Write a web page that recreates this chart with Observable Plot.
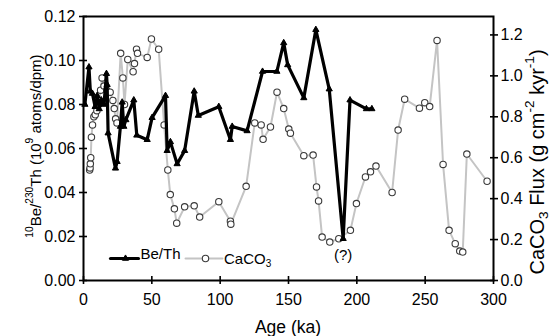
<!DOCTYPE html>
<html><head><meta charset="utf-8">
<script src="https://cdn.jsdelivr.net/npm/d3@7"></script>
<script src="https://cdn.jsdelivr.net/npm/@observablehq/plot@0.6"></script>
<style>body{margin:0;background:#fff}</style>
</head><body>
<div id="chart"></div>
<script>
// Be/Th ratio (10^9 atoms/dpm) vs age (ka)
const beAge = [1, 4, 5, 6.5, 8.5, 10, 11.5, 13, 15, 16.8, 17.3, 18, 23.4, 24.6, 27, 28.3, 29.5, 31, 36.8, 39, 46.6, 50.2, 60, 61.2, 63.6, 68.5, 74, 81, 84, 99, 107.5, 108.8, 119.7, 131, 141.5, 146.5, 149.4, 161.2, 170, 179.8, 190, 195, 207, 211];
const beVal = [0.080, 0.097, 0.086, 0.085, 0.079, 0.084, 0.078, 0.082, 0.080, 0.094, 0.089, 0.067, 0.051, 0.054, 0.070, 0.081, 0.070, 0.073, 0.082, 0.066, 0.064, 0.074, 0.084, 0.059, 0.063, 0.053, 0.059, 0.086, 0.075, 0.079, 0.064, 0.070, 0.068, 0.095, 0.095, 0.108, 0.098, 0.083, 0.114, 0.087, 0.019, 0.082, 0.078, 0.078];
// CaCO3 flux (g cm-2 kyr-1) vs age (ka)
const caAge = [4.5, 4.8, 5.0, 5.3, 5.8, 6.6, 7.6, 8.6, 9.8, 11, 12.5, 13.6, 15, 17, 19.5, 21.5, 22.5, 23.5, 24.5, 27.2, 28.8, 30, 32.4, 36.3, 37.3, 38.8, 39.5, 46.6, 49.7, 55, 59, 61.7, 63.5, 66.5, 68.2, 74, 81, 85, 99, 107.5, 107.8, 119, 125.3, 130, 131.4, 136.8, 141.6, 146.5, 150.2, 151.4, 161.2, 168, 170.5, 172, 174.6, 180.2, 186.8, 195.3, 199.7, 206.3, 210, 214, 225.8, 230.2, 235, 245.8, 249.7, 253.3, 258.7, 263.1, 267.5, 272, 275.3, 277.5, 280.5, 295.3];
const caFlux = [0.54, 0.55, 0.57, 0.60, 0.70, 0.76, 0.80, 0.81, 0.83, 0.86, 0.93, 0.99, 0.95, 0.93, 0.92, 0.88, 0.84, 0.79, 0.77, 1.11, 0.99, 0.86, 1.08, 1.02, 1.06, 1.13, 1.11, 1.09, 1.18, 1.13, 0.76, 0.54, 0.42, 0.35, 0.28, 0.36, 0.365, 0.31, 0.385, 0.29, 0.275, 0.46, 0.77, 0.76, 0.69, 0.75, 0.92, 0.84, 0.74, 0.72, 0.61, 0.613, 0.457, 0.389, 0.212, 0.188, 0.204, 0.245, 0.376, 0.506, 0.531, 0.559, 0.43, 0.735, 0.886, 0.842, 0.869, 0.85, 1.173, 0.567, 0.245, 0.18, 0.144, 0.139, 0.618, 0.485];
// tick values
const xTicks = [0, 50, 100, 150, 200, 250, 300];
const leftTicks = [0, 0.02, 0.04, 0.06, 0.08, 0.10, 0.12];
const rightTicks = [0, 0.2, 0.4, 0.6, 0.8, 1.0, 1.2];
const leftMax = 0.12, rightMax = 1.29;
const annotAge = 190, annotVal = 0.019;

const k = leftMax / rightMax;
const be = beAge.map((a, i) => ({age: a, v: beVal[i]}));
const ca = caAge.map((a, i) => ({age: a, v: caFlux[i] * k}));

const font = "'Liberation Sans', Arial, Helvetica, sans-serif";
const grayLine = "#c4c4c4", circleStroke = "#3a3a3a";
const segment = {draw(c, l) { c.moveTo(0, 0); c.lineTo(0, -l); }};

const chart = Plot.plot({
  width: 552, height: 336,
  marginLeft: 83, marginRight: 59, marginTop: 16, marginBottom: 56,
  style: {fontFamily: font, fontSize: "16px", background: "white", color: "black", overflow: "visible"},
  x: {domain: [0, 300], label: null},
  y: {domain: [0, leftMax], label: null},
  marks: [
    Plot.line(ca, {x: "age", y: "v", stroke: grayLine, strokeWidth: 2}),
    Plot.dot(ca, {x: "age", y: "v", r: 3.2, stroke: circleStroke, strokeWidth: 1.1, fill: "white"}),
    Plot.line(be, {x: "age", y: "v", stroke: "black", strokeWidth: 3.2}),
    Plot.dot(be, {x: "age", y: "v", symbol: "triangle", r: 2.3, fill: "black", stroke: "black", strokeWidth: 1}),
    Plot.text([{age: annotAge, v: annotVal}], {x: "age", y: "v", text: () => "(?)", dy: 16, fontSize: 15}),
    // legend
    Plot.vector([0], {frameAnchor: "bottom-left", dx: 41, dy: -22, rotate: 90, length: 28, anchor: "middle", stroke: "black", strokeWidth: 3.2, shape: segment}),
    Plot.dot([0], {frameAnchor: "bottom-left", dx: 42, dy: -22, symbol: "triangle", r: 2.3, fill: "black", stroke: "black", strokeWidth: 1}),
    Plot.text(["Be/Th"], {frameAnchor: "bottom-left", dx: 57, dy: -22, textAnchor: "start", fontSize: 15}),
    Plot.vector([0], {frameAnchor: "bottom-left", dx: 120.5, dy: -22, rotate: 90, length: 37, anchor: "middle", stroke: grayLine, strokeWidth: 2, shape: segment}),
    Plot.dot([0], {frameAnchor: "bottom-left", dx: 122, dy: -22, r: 3.2, stroke: circleStroke, strokeWidth: 1.1, fill: "white"}),
    // axes: crossing ticks
    Plot.axisY({anchor: "left", ticks: leftTicks, tickSize: 8, insetLeft: 4, fill: "none", strokeWidth: 1.6, label: null}),
    Plot.axisY({anchor: "left", ticks: leftTicks, tickSize: 0, tickPadding: 8, tickFormat: d => d.toFixed(2), label: null, fontSize: 16}),
    Plot.axisY({anchor: "right", ticks: rightTicks.map(v => v * k), tickSize: 8, insetRight: 4, fill: "none", strokeWidth: 1.6, label: null}),
    Plot.axisY({anchor: "right", ticks: rightTicks.map(v => v * k), tickSize: 0, tickPadding: 7, tickFormat: d => (d / k).toFixed(1), label: null, fontSize: 16}),
    Plot.axisX({anchor: "bottom", ticks: xTicks, tickSize: 8, insetBottom: 4, fill: "none", strokeWidth: 1.6, label: null}),
    Plot.axisX({anchor: "bottom", ticks: xTicks, tickSize: 0, tickPadding: 13, tickFormat: d => String(d), label: null, fontSize: 16}),
    Plot.frame({stroke: "black", strokeWidth: 2})
  ]
});

document.getElementById("chart").append(chart);

// axis titles with super/subscripts, centred by measured box
const svg = d3.select(chart);
function addTitle(parts, cx, cy, rotate, size) {
  const g = svg.append("g").attr("transform", `translate(${cx},${cy}) rotate(${rotate})`);
  const t = g.append("text")
    .attr("x", 0).attr("y", 0)
    .attr("text-anchor", "start")
    .attr("dominant-baseline", "central")
    .attr("fill", "black")
    .style("font-family", font)
    .style("font-size", size + "px");
  let shift = 0;
  for (const [txt, kind] of parts) {
    const target = kind === "sup" ? -0.42 * size : kind === "sub" ? 0.3 * size : 0;
    t.append("tspan")
      .attr("dy", target - shift)
      .style("font-size", kind ? (0.68 * size) + "px" : null)
      .text(txt);
    shift = target;
  }
  const bb = t.node().getBBox();
  t.attr("x", -bb.x - bb.width / 2);
  return t;
}
addTitle([["10", "sup"], ["Be/"], ["230", "sup"], ["Th (10"], ["9", "sup"], [" atoms/dpm)"]], 35, 146, -90, 15);
addTitle([["CaCO"], ["3", "sub"], [" Flux (g cm"], ["-2", "sup"], [" kyr"], ["-1", "sup"], [")"]], 537, 162, -90, 20);
addTitle([["Age (ka)"]], 288, 327, 0, 17.5);
// legend label with subscript
const lg = svg.append("text")
  .attr("x", 224).attr("y", 258)
  .attr("text-anchor", "start")
  .attr("dominant-baseline", "central")
  .attr("fill", "black")
  .style("font-family", font).style("font-size", "15px");
lg.append("tspan").text("CaCO");
lg.append("tspan").attr("dy", 4.5).style("font-size", "10px").text("3");
</script>
</body></html>
